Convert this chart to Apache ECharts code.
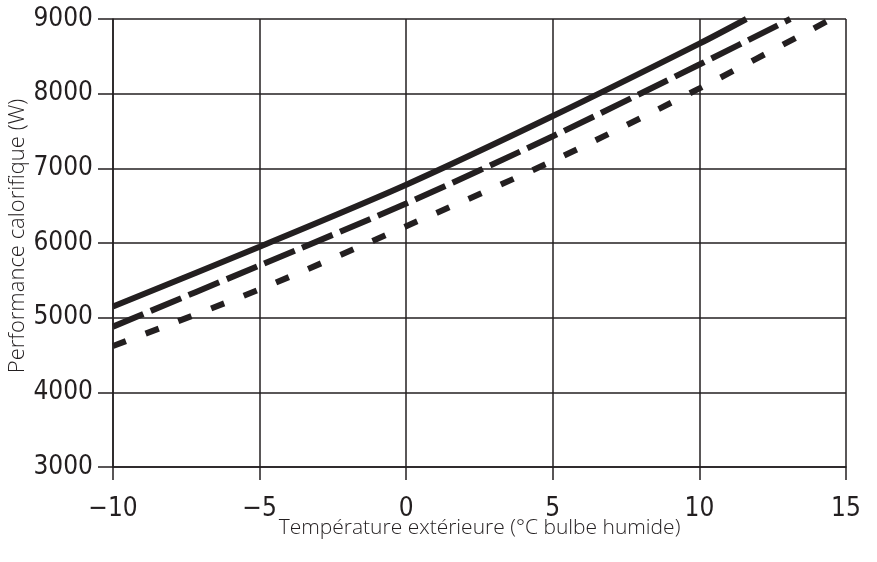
<!DOCTYPE html>
<html>
<head>
<meta charset="utf-8">
<script src="https://cdn.jsdelivr.net/npm/echarts@6/dist/echarts.min.js"></script>
<style>
html,body{margin:0;padding:0;background:#fff;}
#c{width:877px;height:562px;}
</style>
</head>
<body>
<div id="c"></div>
<script>
const xTicks = [-10, -5, 0, 5, 10, 15];
const yTicks = [3000, 4000, 5000, 6000, 7000, 8000, 9000];
const solidX = [-10, -5, 0, 5, 10, 11.6];
const solidY = [5150, 5950, 6780, 7700, 8670, 9000];
const dashedX = [-10, -5, 0, 5, 10, 13.1];
const dashedY = [4880, 5700, 6530, 7430, 8390, 9000];
const dottedX = [-10, -5, 0, 5, 10, 14.5];
const dottedY = [4620, 5380, 6225, 7100, 8070, 9000];
const xName = 'Température extérieure (°C bulbe humide)';
const yName = 'Performance calorifique (W)';

const ink = '#231f20';
const nameFont = '"Open Sans", sans-serif';
const tickFont = '"DejaVu Sans", sans-serif';
const pair = (xs, ys) => xs.map((x, i) => [x, ys[i]]);

const chart = echarts.init(document.getElementById('c'), null, {renderer: 'canvas'});
chart.setOption({
  animation: false,
  backgroundColor: '#fff',
  grid: {left: 113, right: 31, top: 19, bottom: 95, containLabel: false, outerBoundsMode: 'none'},
  xAxis: {
    type: 'value', min: xTicks[0], max: xTicks[xTicks.length - 1], interval: 5,
    name: xName, nameLocation: 'middle', nameGap: 51, nameMoveOverlap: false,
    nameTextStyle: {fontFamily: nameFont, fontSize: 21, fontWeight: 300, color: ink},
    axisLine: {show: true, onZero: false, lineStyle: {color: ink, width: 1.5}},
    axisTick: {show: true, length: 13, lineStyle: {color: ink, width: 1.5}},
    splitLine: {show: true, lineStyle: {color: ink, width: 1.5}},
    axisLabel: {fontFamily: tickFont, fontSize: 26, fontWeight: 'condensed', color: ink, margin: 29,
      formatter: v => String(v).replace('-', '\u2212')}
  },
  yAxis: {
    type: 'value', min: yTicks[0], max: yTicks[yTicks.length - 1], interval: 1000,
    name: yName, nameLocation: 'middle', nameGap: 84, nameMoveOverlap: false,
    nameTextStyle: {fontFamily: nameFont, fontSize: 22, fontWeight: 300, color: ink, padding: [0, 0, 0, 14]},
    axisLine: {show: true, onZero: false, lineStyle: {color: ink, width: 1.5}},
    axisTick: {show: true, length: 15, lineStyle: {color: ink, width: 1.5}},
    splitLine: {show: true, lineStyle: {color: ink, width: 1.5}},
    axisLabel: {fontFamily: tickFont, fontSize: 26, fontWeight: 'condensed', color: ink, margin: 20,
      formatter: v => String(v)}
  },
  series: [
    {type: 'line', data: pair(solidX, solidY), smooth: 0.3, showSymbol: false,
     lineStyle: {color: ink, width: 6, type: 'solid', cap: 'butt'}},
    {type: 'line', data: pair(dashedX, dashedY), smooth: 0.3, showSymbol: false,
     lineStyle: {color: ink, width: 6, type: [33, 8], cap: 'butt'}},
    {type: 'line', data: pair(dottedX, dottedY), smooth: 0.3, showSymbol: false,
     lineStyle: {color: ink, width: 6, type: [14, 21], cap: 'butt'}}
  ]
});
</script>
</body>
</html>
